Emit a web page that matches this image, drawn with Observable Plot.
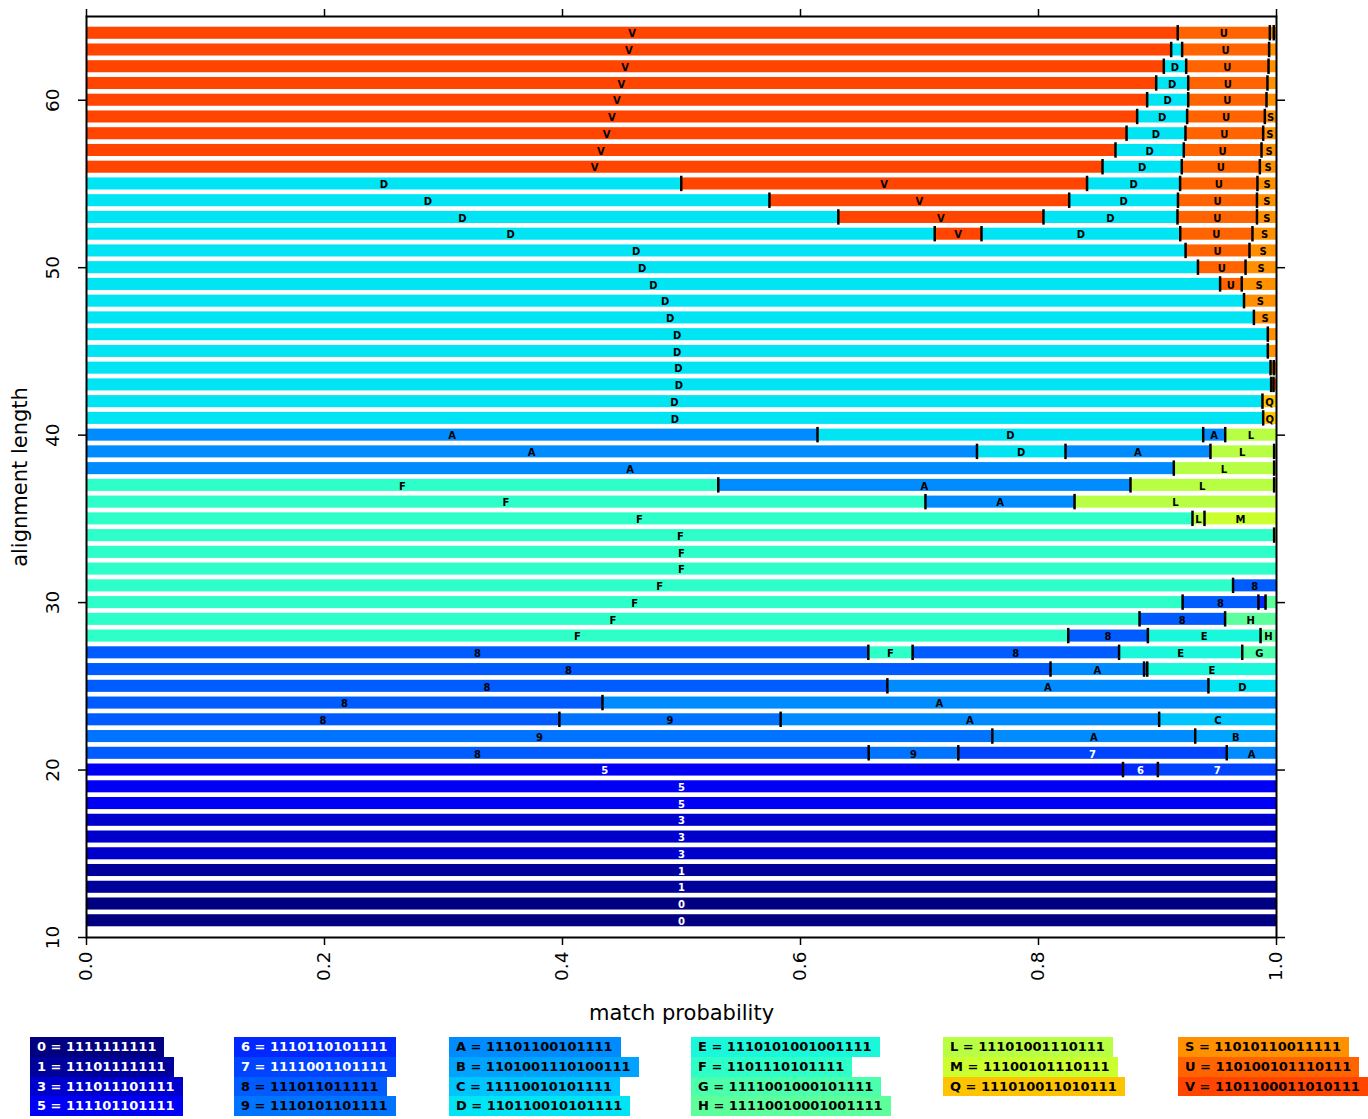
<!DOCTYPE html>
<html><head><meta charset="utf-8">
<script src="https://cdn.jsdelivr.net/npm/d3@7"></script>
<script src="https://cdn.jsdelivr.net/npm/@observablehq/plot@0.6"></script>
<style>
body{margin:0;background:#fff;font-family:"DejaVu Sans",sans-serif;}
#wrap{position:relative;width:1368px;height:1119px;overflow:hidden;}
.col{position:absolute;top:1037px;}
.item{display:block;width:max-content;font:bold 13px "DejaVu Sans",sans-serif;line-height:19.8px;padding:0 8px 0 7px;white-space:nowrap;}
</style></head><body><div id="wrap"><div id="chart"></div><div id="legend"></div></div>
<script>
// ---- data ----
const lengths = [64,63,62,61,60,59,58,57,56,55,54,53,52,51,50,49,48,47,46,45,44,43,42,41,40,39,38,37,36,35,34,33,32,31,30,29,28,27,26,25,24,23,22,21,20,19,18,17,16,15,14,13,12,11];
const segmentKeys = [
  ["V","U","S","S"],["V","D","U","S"],["V","D","U","S"],["V","D","U","S"],["V","D","U","S"],
  ["V","D","U","S"],["V","D","U","S"],["V","D","U","S"],["V","D","U","S"],
  ["D","V","D","U","S"],["D","V","D","U","S"],["D","V","D","U","S"],["D","V","D","U","S"],
  ["D","U","S"],["D","U","S"],["D","U","S"],["D","S"],["D","S"],["D","S"],["D","S"],
  ["D","S","U"],["D","S","U"],["D","Q"],["D","Q"],
  ["A","D","A","L"],["A","D","A","L","M"],["A","L","M"],["F","A","L","M"],["F","A","L"],["F","L","M"],
  ["F","L"],["F"],["F"],["F","8"],["F","8","6","H"],["F","8","H"],["F","8","E","H"],
  ["8","F","8","E","G"],["8","A","9","E"],["8","A","D"],["8","A"],["8","9","A","C"],["9","A","B"],["8","9","7","A"],
  ["5","6","7"],["5"],["5"],["3"],["3"],["3"],["1"],["1"],["0"],["0"]
];
const segmentBreaks = [
  [0.917,0.9944,0.9977],[0.9115,0.9207,0.9938],[0.9053,0.9241,0.9933],[0.8989,0.9258,0.9924],[0.8913,0.9258,0.9916],
  [0.8829,0.9249,0.9902],[0.874,0.9235,0.9888],[0.8647,0.9221,0.9874],[0.8538,0.9204,0.986],
  [0.4998,0.8408,0.919,0.984],[0.5739,0.8258,0.9172,0.9836],[0.6318,0.8042,0.9168,0.9836],[0.7128,0.7521,0.9191,0.9798],
  [0.9236,0.9773],[0.934,0.974],[0.9526,0.9708],[0.9727],[0.981],[0.9927],[0.9927],
  [0.995,0.9977],[0.9955,0.9975],[0.9882],[0.9888],
  [0.6143,0.9384,0.9569],[0.7483,0.8227,0.9445,0.998],[0.9137,0.998],[0.5309,0.8773,0.998],[0.705,0.8303],[0.9294,0.9395],
  [0.998],[],[],[0.9635],[0.9211,0.9848,0.9908],[0.8849,0.9568],[0.825,0.8919,0.9866],
  [0.657,0.6942,0.8677,0.9712],[0.8101,0.8887,0.8914],[0.673,0.9428],[0.4336],[0.3974,0.5833,0.9014],[0.7612,0.9317],[0.6573,0.7326,0.9582],
  [0.871,0.9003],[],[],[],[],[],[],[],[],[]
];
const legendKeys = ["0","1","3","5","6","7","8","9","A","B","C","D","E","F","G","H","L","M","Q","S","U","V"];
const legendPatterns = ["1111111111","11101111111","111011101111","111101101111","1110110101111","1111001101111","111011011111","1110101101111","11101100101111","1101001110100111","11110010101111","110110010101111","1110101001001111","1101110101111","1111001000101111","11110010001001111","11101001110111","11100101110111","111010011010111","11010110011111","110100101110111","1101100011010111"];
const keyColors = ["#000080","#00009a","#0000cd","#0000f5","#0028ff","#0044ff","#005cff","#0074ff","#008cff","#00a4ff","#00c4ff","#00e4f4","#1af8dc","#2effc8","#4cffaa","#5cff9c","#b8ff44","#ccff30","#ffc400","#ff9000","#ff6400","#ff4500"];
const whiteTextKeys = ["0","1","3","5","6","7"];
const legendColumns = [["0","1","3","5"],["6","7","8","9"],["A","B","C","D"],["E","F","G","H"],["L","M","Q"],["S","U","V"]];
const xTicks = [0,0.2,0.4,0.6,0.8,1.0];
const yTicks = [10,20,30,40,50,60];

// ---- derived tables ----
const colorOf = new Map(legendKeys.map((k,i)=>[k,keyColors[i]]));
const segs = [], dividers = [];
lengths.forEach((len,i)=>{
  const b = [0, ...segmentBreaks[i], 1];
  segmentKeys[i].forEach((k,j)=>segs.push({len, key:k, x1:b[j], x2:b[j+1]}));
  segmentBreaks[i].forEach(x=>dividers.push({len, x}));
});
const labeled = segs.filter(d=>d.x2-d.x1>0.0097);
const isWhite = d=>whiteTextKeys.includes(d.key);

const chart = Plot.plot({
  width:1368, height:1030,
  marginLeft:86, marginRight:92, marginTop:16, marginBottom:93,
  style:{fontFamily:"DejaVu Sans, sans-serif", background:"white"},
  x:{domain:[0,1]},
  y:{domain:[10,65]},
  color:{type:"identity"},
  marks:[
    Plot.rect(segs,{x1:"x1",x2:"x2",y1:d=>d.len-0.36,y2:d=>d.len+0.36,fill:d=>colorOf.get(d.key)}),
    Plot.ruleX(dividers,{x:"x",y1:d=>d.len-0.46,y2:d=>d.len+0.46,stroke:"black",strokeWidth:2.5}),
    Plot.text(labeled.filter(d=>!isWhite(d)),{x:d=>(d.x1+d.x2)/2,y:"len",text:"key",fill:"black",fontWeight:"bold",fontSize:10,dy:1}),
    Plot.text(labeled.filter(isWhite),{x:d=>(d.x1+d.x2)/2,y:"len",text:"key",fill:"white",fontWeight:"bold",fontSize:10,dy:1}),
    Plot.axisX({anchor:"bottom",ticks:xTicks,tickFormat:d3.format(".1f"),tickRotate:-90,tickSize:8,tickPadding:6,fontSize:18.5,label:null,strokeWidth:1.5}),
    Plot.axisX({anchor:"top",ticks:xTicks,tickFormat:()=>"",tickSize:8,label:null,strokeWidth:1.5}),
    Plot.axisY({anchor:"left",ticks:yTicks,tickRotate:-90,tickSize:8,tickPadding:20,fontSize:18.5,label:null,strokeWidth:1.5}),
    Plot.axisY({anchor:"right",ticks:yTicks,tickFormat:()=>"",tickSize:8,label:null,strokeWidth:1.5}),
    Plot.frame({stroke:"black",strokeWidth:2}),
    Plot.text(["match probability"],{frameAnchor:"bottom",dy:82,fontSize:21,fill:"black",textAnchor:"middle"}),
    Plot.text(["alignment length"],{frameAnchor:"left",dx:-66,rotate:-90,fontSize:21,fill:"black",textAnchor:"middle"})
  ]
});
document.getElementById("chart").appendChild(chart);

// ---- legend ----
const lefts = [30,234,449,691,943,1178];
const legend = document.getElementById("legend");
legendColumns.forEach((col,ci)=>{
  const div = document.createElement("div");
  div.className = "col";
  div.style.left = lefts[ci]+"px";
  col.forEach(k=>{
    const i = legendKeys.indexOf(k);
    const s = document.createElement("span");
    s.className = "item";
    s.textContent = `${k} = ${legendPatterns[i]}`;
    s.style.background = keyColors[i];
    s.style.color = whiteTextKeys.includes(k) ? "white" : "black";
    div.appendChild(s);
  });
  legend.appendChild(div);
});
</script></body></html>
